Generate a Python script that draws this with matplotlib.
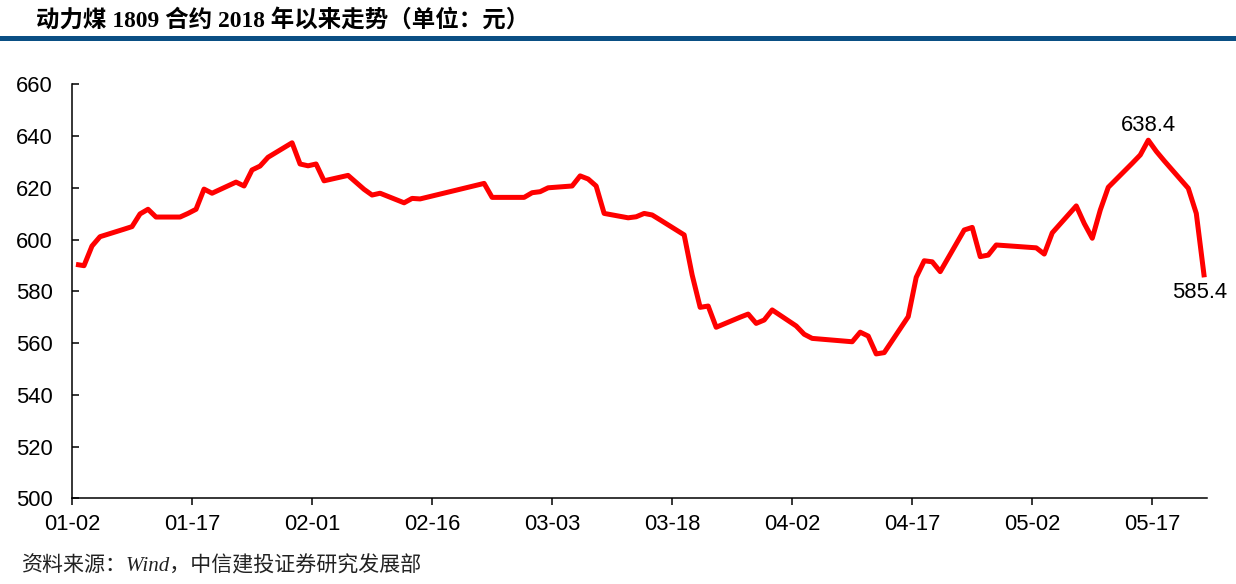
import datetime as dt
import matplotlib
matplotlib.use("Agg")
import matplotlib.pyplot as plt
import matplotlib.dates as mdates
from matplotlib.patches import Rectangle

# ---- data ----
dates = ["01-02", "01-03", "01-04", "01-05", "01-08", "01-09", "01-10", "01-11", "01-12",
         "01-15", "01-16", "01-17", "01-18", "01-19", "01-22", "01-23", "01-24", "01-25",
         "01-26", "01-29", "01-30", "01-31", "02-01", "02-02", "02-05", "02-06", "02-07",
         "02-08", "02-09", "02-12", "02-13", "02-14", "02-22", "02-23", "02-26", "02-27",
         "02-28", "03-01", "03-02", "03-05", "03-06", "03-07", "03-08", "03-09", "03-12",
         "03-13", "03-14", "03-15", "03-16", "03-19", "03-20", "03-21", "03-22", "03-23",
         "03-26", "03-27", "03-28", "03-29", "03-30", "04-02", "04-03", "04-04", "04-09",
         "04-10", "04-11", "04-12", "04-13", "04-16", "04-17", "04-18", "04-19", "04-20",
         "04-23", "04-24", "04-25", "04-26", "04-27", "05-02", "05-03", "05-04", "05-07",
         "05-08", "05-09", "05-10", "05-11", "05-14", "05-15", "05-16", "05-17", "05-18",
         "05-21", "05-22", "05-23"]
prices = [590.4, 589.9, 597.5, 601.1, 604.0, 605.0, 609.9, 611.7, 608.7,
          608.7, 610.1, 611.7, 619.5, 617.9, 622.2, 620.7, 626.9, 628.4,
          631.8, 637.4, 629.2, 628.5, 629.2, 622.7, 624.8, 622.1, 619.4,
          617.2, 617.9, 614.2, 615.9, 615.7, 621.7, 616.3, 616.3, 616.3,
          618.1, 618.5, 620.0, 620.7, 624.6, 623.4, 620.7, 610.1, 608.4,
          608.8, 610.1, 609.5, 607.6, 601.8, 586.3, 573.8, 574.3, 566.1,
          570.0, 571.2, 567.6, 568.9, 572.8, 566.6, 563.4, 561.8, 560.5,
          564.2, 562.7, 555.8, 556.3, 570.2, 585.4, 591.8, 591.4, 587.6,
          603.7, 604.7, 593.4, 594.0, 597.9, 596.8, 594.4, 602.6, 613.0,
          606.2, 600.5, 611.4, 620.2, 629.5, 632.7, 638.4, 634.1, 630.4,
          619.8, 610.1, 585.4]
year = 2018
tick_labels = ["01-02", "01-17", "02-01", "02-16", "03-03", "03-18",
               "04-02", "04-17", "05-02", "05-17"]
yticks = [500, 520, 540, 560, 580, 600, 620, 640, 660]
title = "动力煤 1809 合约 2018 年以来走势（单位：元）"
source = "资料来源：Wind，中信建投证券研究发展部"


def to_num(md):
    m, d = md.split("-")
    return mdates.date2num(dt.datetime(year, int(m), int(d)))


xs = [to_num(d) + 0.5 for d in dates]   # points centred in each day slot
tick_pos = [to_num(t) for t in tick_labels]

fig = plt.figure(figsize=(12.36, 5.84), dpi=100)
ax = fig.add_axes([0.05825, 0.14675, 0.97694 - 0.05825, 0.85565 - 0.14675])

ax.plot(xs, prices, color="#ff0000", lw=3.6, solid_joinstyle="round",
        solid_capstyle="butt")

ax.set_ylim(500, 660)
ax.set_xlim(to_num("01-02"), to_num("01-02") + 141.9)
ax.set_yticks(yticks)
ax.set_xticks(tick_pos)
ax.set_xticklabels(tick_labels)

for s in ["top", "right"]:
    ax.spines[s].set_visible(False)
for s in ["left", "bottom"]:
    ax.spines[s].set_linewidth(1.1)
    ax.spines[s].set_color("black")

ax.tick_params(axis="y", direction="in", length=5, width=1.1, pad=14)
ax.tick_params(axis="x", direction="out", length=5, width=1.1, pad=6)
for lbl in ax.get_yticklabels() + ax.get_xticklabels():
    lbl.set_fontfamily("Liberation Sans")
    lbl.set_fontsize(15.8)

# annotations: max and last
imax = prices.index(max(prices))
ax.annotate(f"{prices[imax]:.1f}", (xs[imax], prices[imax]), xytext=(0, 10.8),
            textcoords="offset points", ha="center", va="center",
            fontfamily="Liberation Sans", fontsize=15.8)
ax.annotate(f"{prices[-1]:.1f}", (xs[-1], prices[-1]), xytext=(-3.6, -10.6),
            textcoords="offset points", ha="center", va="center",
            fontfamily="Liberation Sans", fontsize=15.8)

# header
fig.text(0.029, 0.9658, title, ha="left", va="center", fontsize=16.9,
         fontweight="bold", family=["Liberation Serif", "Noto Sans CJK SC"])
fig.add_artist(Rectangle((0, 1 - 41 / 584), 1, 5 / 584, transform=fig.transFigure,
                         facecolor="#0a4f84", edgecolor="none"))

# footer
fig.text(0.0178, 0.0308, source, ha="left", va="center", fontsize=15.1,
         style="italic", family=["Liberation Serif", "Noto Sans CJK SC"], color="#222222")

fig.savefig("out.png", dpi=100)
